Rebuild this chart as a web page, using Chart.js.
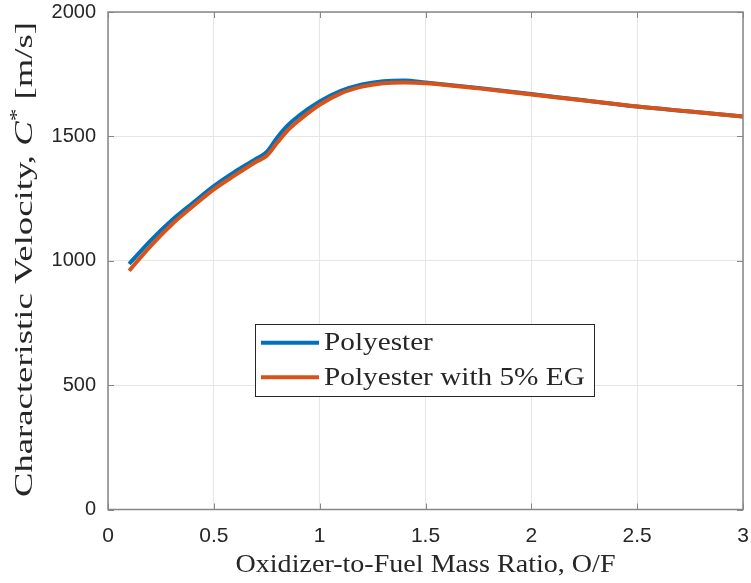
<!DOCTYPE html>
<html>
<head>
<meta charset="utf-8">
<script src="https://cdn.jsdelivr.net/npm/chart.js@4.4.1/dist/chart.umd.min.js"></script>
<style>
  body { margin: 0; background: #fff; }
  #wrap { width: 751px; height: 583px; }
</style>
</head>
<body>
<div id="wrap"><canvas id="grafico" width="751" height="583"></canvas></div>
<script>
// O/F ratio and C* values
const ofRatio = [0.1, 0.2, 0.3, 0.4, 0.5, 0.6, 0.7, 0.75, 0.8, 0.85, 0.9, 1.0, 1.1, 1.2, 1.3, 1.4, 1.5, 1.75, 2.0, 2.25, 2.5, 2.75, 3.0];
const cPolyester = [987, 1080, 1162, 1232, 1300, 1358, 1410, 1438, 1496, 1545, 1582, 1640, 1683, 1709, 1722, 1725, 1717, 1695, 1670, 1645, 1620, 1600, 1580];
const cPolyesterEG = [960, 1058, 1145, 1218, 1287, 1344, 1398, 1422, 1475, 1525, 1563, 1627, 1673, 1700, 1714, 1717, 1714, 1693, 1668, 1644, 1620, 1600, 1580];
const seriesLabels = ['Polyester', 'Polyester with 5% EG'];
const xTicks = [0, 0.5, 1, 1.5, 2, 2.5, 3];
const yTicks = [0, 500, 1000, 1500, 2000];

const azul = '#0072BD';
const naranja = '#D95319';
const ejeColor = '#868686';
const textoColor = '#262626';
const serif = '"Liberation Serif", "Times New Roman", serif';

const toPoints = (ys) => ofRatio.map((x, i) => ({ x: x, y: ys[i] }));

// text stretched along its length to the width it has in the figure
const stretchText = (ctx, parts, x, y, targetLen) => {
  let total = 0;
  parts.forEach((p) => { ctx.font = p.font; total += ctx.measureText(p.text).width; });
  const sx = targetLen / total;
  ctx.save();
  ctx.translate(x - targetLen / 2, y);
  ctx.scale(sx, 1);
  let cx = 0;
  parts.forEach((p) => {
    ctx.font = p.font;
    ctx.fillText(p.text, cx, p.dy || 0);
    cx += ctx.measureText(p.text).width;
  });
  ctx.restore();
};

const matlabAxes = {
  id: 'matlabAxes',
  afterDraw(chart) {
    const ctx = chart.ctx;
    const a = chart.chartArea;
    const xs = chart.scales.x, ys = chart.scales.y;
    ctx.save();
    // box + inward ticks
    ctx.strokeStyle = ejeColor;
    ctx.lineWidth = 1.5;
    ctx.strokeRect(a.left, a.top, a.right - a.left, a.bottom - a.top);
    ctx.lineWidth = 1;
    ctx.beginPath();
    xTicks.forEach((v) => {
      const px = Math.round(xs.getPixelForValue(v)) + 0.5;
      ctx.moveTo(px, a.bottom); ctx.lineTo(px, a.bottom - 6);
      ctx.moveTo(px, a.top); ctx.lineTo(px, a.top + 6);
    });
    yTicks.forEach((v) => {
      const py = Math.round(ys.getPixelForValue(v)) + 0.5;
      ctx.moveTo(a.left, py); ctx.lineTo(a.left + 6, py);
      ctx.moveTo(a.right, py); ctx.lineTo(a.right - 6, py);
    });
    ctx.stroke();

    // axis titles
    ctx.fillStyle = textoColor;
    ctx.textBaseline = 'alphabetic';
    ctx.textAlign = 'left';
    stretchText(ctx, [{ text: 'Oxidizer-to-Fuel Mass Ratio, O/F', font: '25px ' + serif }],
      (a.left + a.right) / 2, 572, 380);
    ctx.save();
    ctx.translate(32, 259.5);
    ctx.rotate(-Math.PI / 2);
    stretchText(ctx, [
      { text: 'Characteristic Velocity, ', font: '26px ' + serif },
      { text: 'C', font: 'italic 26px ' + serif },
      { text: '*', font: '18px ' + serif, dy: -9 },
      { text: ' [m/s]', font: '26px ' + serif }
    ], 0, 0, 475);
    ctx.restore();

    // legend box
    const lx = 255, ly = 324, lw = 339, lh = 72;
    ctx.fillStyle = '#ffffff';
    ctx.fillRect(lx, ly, lw, lh);
    ctx.strokeStyle = textoColor;
    ctx.lineWidth = 1;
    ctx.strokeRect(lx + 0.5, ly + 0.5, lw, lh);
    const filas = [342.7, 377.3];
    chart.data.datasets.forEach((ds, i) => {
      ctx.strokeStyle = ds.borderColor;
      ctx.lineWidth = 4;
      ctx.beginPath();
      ctx.moveTo(261, filas[i]);
      ctx.lineTo(319, filas[i]);
      ctx.stroke();
      ctx.fillStyle = textoColor;
      ctx.font = '25px ' + serif;
      const w = ctx.measureText(ds.label).width * 1.17;
      stretchText(ctx, [{ text: ds.label, font: '25px ' + serif }], 324 + w / 2, filas[i] + 7.5, w);
    });
    ctx.restore();
  }
};

const ctx = document.getElementById('grafico').getContext('2d');
const myChart = new Chart(ctx, {
  type: 'line',
  data: {
    datasets: [
      {
        label: seriesLabels[0],
        data: toPoints(cPolyester),
        borderColor: azul,
        backgroundColor: azul,
        borderWidth: 4,
        pointRadius: 0,
        cubicInterpolationMode: 'monotone',
        order: 1
      },
      {
        label: seriesLabels[1],
        data: toPoints(cPolyesterEG),
        borderColor: naranja,
        backgroundColor: naranja,
        borderWidth: 4,
        pointRadius: 0,
        cubicInterpolationMode: 'monotone',
        order: 0
      }
    ]
  },
  options: {
    responsive: false,
    animation: false,
    events: [],
    layout: { padding: { top: 12, right: 8, left: 0, bottom: 0 } },
    plugins: { legend: { display: false }, tooltip: { enabled: false } },
    scales: {
      x: {
        type: 'linear',
        min: 0,
        max: 3,
        afterBuildTicks: (s) => { s.ticks = xTicks.map((v) => ({ value: v })); },
        afterFit: (s) => { s.height = 73.5; s.paddingLeft = 0; s.paddingRight = 0; },
        grid: { color: '#e6e6e6', drawTicks: false },
        border: { display: false },
        ticks: {
          padding: 14,
          color: textoColor,
          font: { family: '"Liberation Sans", Arial, sans-serif', size: 21 },
          callback: (v) => String(v)
        }
      },
      y: {
        type: 'linear',
        min: 0,
        max: 2000,
        afterBuildTicks: (s) => { s.ticks = yTicks.map((v) => ({ value: v })); },
        afterFit: (s) => { s.width = 108; s.paddingTop = 0; s.paddingBottom = 0; },
        grid: { color: '#e6e6e6', drawTicks: false },
        border: { display: false },
        ticks: {
          padding: 12,
          color: textoColor,
          font: { family: '"Liberation Sans", Arial, sans-serif', size: 20 },
          callback: (v) => String(v)
        }
      }
    }
  },
  plugins: [matlabAxes]
});
</script>
</body>
</html>
